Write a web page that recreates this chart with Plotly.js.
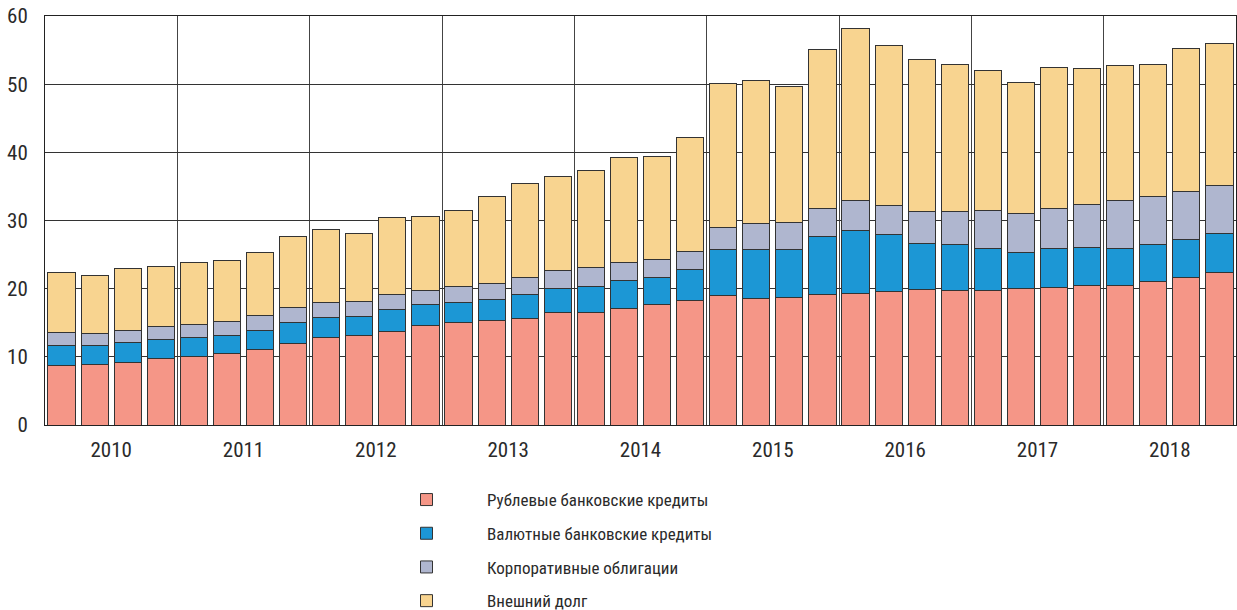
<!DOCTYPE html>
<html>
<head>
<meta charset="utf-8">
<script src="https://cdn.plot.ly/plotly-3.0.1.min.js"></script>
<style>
html,body{margin:0;padding:0;background:#fff;}
#chart{width:1237px;height:610px;}
#chart text{font-stretch:condensed !important;}
</style>
</head>
<body>
<div id="chart"></div>
<script>
var years = ["2010","2011","2012","2013","2014","2015","2016","2017","2018"];
var quarters = ["I","II","III","IV"];

var rubLoans = [8.8,8.9,9.2,9.7, 10.1,10.5,11.1,12.0, 12.8,13.1,13.7,14.6, 15.1,15.3,15.6,16.5, 16.5,17.1,17.7,18.2, 19.0,18.6,18.7,19.2, 19.3,19.6,19.9,19.8, 19.8,20.0,20.1,20.5, 20.4,21.1,21.7,22.4];
var fxLoans = [2.9,2.8,2.9,2.9, 2.8,2.7,2.7,3.1, 3.0,2.8,3.3,3.1, 2.9,3.1,3.5,3.5, 3.8,4.1,3.9,4.6, 6.7,7.2,7.1,8.4, 9.3,8.4,6.8,6.7, 6.1,5.3,5.8,5.6, 5.5,5.4,5.5,5.7];
var bonds = [1.8,1.7,1.8,1.9, 1.9,2.0,2.2,2.1, 2.2,2.2,2.2,2.1, 2.3,2.4,2.6,2.6, 2.8,2.7,2.7,2.7, 3.3,3.8,3.9,4.1, 4.4,4.2,4.6,4.8, 5.5,5.7,5.9,6.2, 7.0,7.0,7.1,7.1];
var extDebt = [8.9,8.6,9.0,8.7, 9.1,8.9,9.3,10.4, 10.7,10.0,11.2,10.8, 11.1,12.7,13.8,13.8, 14.3,15.4,15.1,16.7, 21.1,20.9,19.9,23.4, 25.1,23.5,22.3,21.6, 20.6,19.2,20.6,20.0, 19.8,19.4,20.9,20.8];

var seriesNames = ["Рублевые банковские кредиты","Валютные банковские кредиты","Корпоративные облигации","Внешний долг"];
var seriesColors = ["#F59687","#1C97D5","#AFB6CF","#F8D490"];
var seriesData = [rubLoans, fxLoans, bonds, extDebt];

var xPos = [], xLabels = [];
years.forEach(function(y, i){ quarters.forEach(function(q, j){ xPos.push(i*4+j); xLabels.push(q+" кв. "+y); }); });
var yearCenters = years.map(function(y,i){ return i*4 + 1.5; });

var FONT = "Roboto Condensed, Liberation Sans Narrow, DejaVu Sans Condensed, DejaVu Sans, sans-serif";

var traces = seriesData.map(function(vals, k){
  return {
    type: "bar",
    x: xPos,
    y: vals,
    name: seriesNames[k],
    legendgroup: "g"+k,
    customdata: xLabels,
    hovertemplate: "%{customdata}: %{y}<extra>"+seriesNames[k]+"</extra>",
    marker: {color: seriesColors[k], line: {color: "#333333", width: 1}}
  };
});

var layout = {
  width: 1237, height: 610,
  margin: {l: 45, r: 1, t: 16, b: 185, autoexpand: false},
  paper_bgcolor: "#ffffff", plot_bgcolor: "#ffffff",
  barmode: "stack",
  bargap: 0.18,
  font: {family: FONT, color: "#2a2a2a"},
  showlegend: true,
  legend: {
    orientation: "v",
    traceorder: "grouped",
    tracegroupgap: 8.6,
    itemwidth: 111,
    x: (366-45)/1191, xanchor: "left",
    y: (425-482)/409, yanchor: "top",
    font: {family: FONT, size: 17, color: "#2a2a2a"},
    bgcolor: "rgba(0,0,0,0)",
    itemclick: false, itemdoubleclick: false
  },
  xaxis: {
    range: [-0.5, 35.5],
    tickmode: "array",
    tickvals: yearCenters,
    ticktext: years,
    tickangle: 0,
    ticks: "",
    showgrid: false,
    zeroline: false,
    showline: true, mirror: true, linecolor: "#222222", linewidth: 1,
    tickfont: {family: FONT, size: 21, color: "#2a2a2a"},
    ticklabelstandoff: 6,
    minor: {tick0: -0.5, dtick: 4, showgrid: true, gridcolor: "#444444", gridwidth: 1, ticks: ""},
    fixedrange: true
  },
  yaxis: {
    range: [0, 60],
    dtick: 10,
    ticks: "",
    showgrid: true, gridcolor: "#333333", gridwidth: 1,
    zeroline: false,
    showline: true, mirror: true, linecolor: "#222222", linewidth: 1,
    tickfont: {family: FONT, size: 21, color: "#2a2a2a"},
    ticklabelstandoff: 12,
    fixedrange: true
  }
};

Plotly.newPlot("chart", traces, layout, {displayModeBar: false});
</script>
</body>
</html>
